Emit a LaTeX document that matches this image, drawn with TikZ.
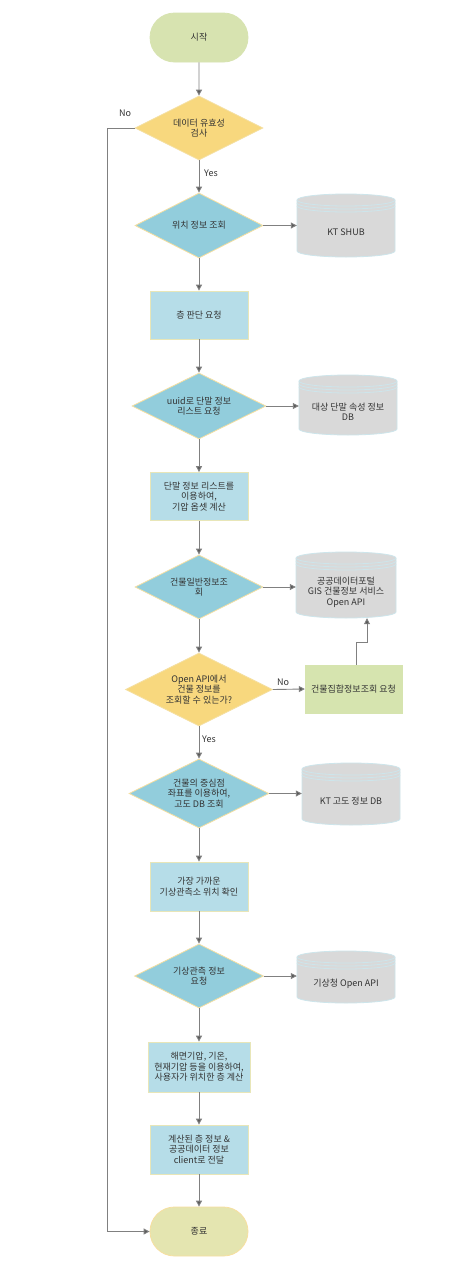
\documentclass[tikz,border=0pt]{standalone}
\usepackage{fontspec}
\setmainfont{Noto Sans CJK KR}
\usetikzlibrary{shapes.geometric,shapes.misc,arrows.meta}
\definecolor{startfill}{HTML}{D7E3B0}
\definecolor{endfill}{HTML}{E4E5B0}
\definecolor{enddraw}{HTML}{F7DFA0}
\definecolor{yelfill}{HTML}{F8D87E}
\definecolor{yeldraw}{HTML}{F5DFA0}
\definecolor{bluedia}{HTML}{92CDDC}
\definecolor{bluerect}{HTML}{B6DDE8}
\definecolor{rectdraw}{HTML}{E8E6B8}
\definecolor{greenrect}{HTML}{D6E4AF}
\definecolor{cylfill}{HTML}{D9D9D9}
\definecolor{cyldraw}{HTML}{CDE5EB}
\definecolor{linegray}{HTML}{808080}
\definecolor{tipgray}{HTML}{595959}
\definecolor{txt}{HTML}{333333}
\newcommand\dbcyl[6]{%
  \pgfmathsetmacro\cyL{#2}\pgfmathsetmacro\cyR{#3}%
  \pgfmathsetmacro\cyRx{(#3-#2)/2}%
  \pgfmathsetmacro\cyW{#3-#2}%
  \pgfmathsetmacro\cyH{#5-#4}%
  \pgfmathsetmacro\cyT{-(#4)-6}%
  \pgfmathsetmacro\cyB{-(#5)+6}%
  \pgfmathsetmacro\cyX{(#2+#3)/2}%
  \pgfmathsetmacro\cyY{-(#4+#5)/2}%
  \pgfmathsetmacro\cyTY{-((#4+12+#5)/2+1)}%
  \filldraw[fill=cylfill,draw=cyldraw,line width=0.8pt] (\cyL,\cyT) -- (\cyL,\cyB) arc[start angle=180,end angle=360,x radius=\cyRx,y radius=6] -- (\cyR,\cyT) arc[start angle=0,end angle=180,x radius=\cyRx,y radius=6] -- cycle;
  \draw[cyldraw,line width=0.8pt] (\cyL,\cyT) arc[start angle=180,end angle=360,x radius=\cyRx,y radius=6];
  \draw[cyldraw,line width=0.8pt] (\cyL,\cyT-3) arc[start angle=180,end angle=360,x radius=\cyRx,y radius=6];
  \draw[cyldraw,line width=0.8pt] (\cyL,\cyT-6) arc[start angle=180,end angle=360,x radius=\cyRx,y radius=6];
  \node[minimum width=\cyW, minimum height=\cyH, inner sep=0] (#1) at (\cyX,\cyY) {};
  \node[align=center] (#1t) at (\cyX,\cyTY) {#6};
}
\begin{document}
\begin{tikzpicture}[x=1pt,y=1pt, font=\fontsize{9}{10.5}\selectfont, text=txt,
  flow/.style={draw=linegray, line width=0.9pt, -{Triangle[length=6pt,width=6pt,fill=tipgray]}},
  term/.style={rounded rectangle, minimum width=98, minimum height=49, inner sep=0, line width=0.8pt},
  dia/.style={diamond, inner sep=0, line width=0.8pt},
  blrect/.style={rectangle, fill=bluerect, draw=rectdraw, line width=0.8pt, inner sep=0, align=center},
  dtext/.style={align=center, inner sep=0}]
\useasboundingbox (0,0) rectangle (474,-1280);
\fill[white] (0,0) rectangle (474,-1280);

% terminals
\node[term, fill=startfill, draw=startfill] (start) at (199,-37.5) {시작};
\node[term, fill=endfill, draw=enddraw] (stop) at (199,-1231.5) {종료};

% diamonds
\node[dia, fill=yelfill, draw=yeldraw, minimum width=128, minimum height=64] (d1) at (199,-128) {};
\node[dtext] (d1t) at (d1) {데이터 유효성\\검사};
\node[dia, fill=bluedia, draw=yeldraw, minimum width=128, minimum height=65] (d2) at (199,-225.5) {};
\node[dtext] (d2t) at (d2) {위치 정보 조회};
\node[dia, fill=bluedia, draw=yeldraw, minimum width=134, minimum height=66] (d3) at (199,-406) {};
\node[dtext] (d3t) at (d3) {uuid로 단말 정보\\리스트 요청};
\node[dia, fill=bluedia, draw=yeldraw, minimum width=128, minimum height=64] (d4) at (199,-587) {};
\node[dtext] (d4t) at (d4) {건물일반정보조\\회};
\node[dia, fill=yelfill, draw=yeldraw, minimum width=147, minimum height=73] (d5) at (199,-689.5) {};
\node[dtext] (d5t) at (d5) {Open API에서\\건물 정보를\\조회할 수 있는가?};
\node[dia, fill=bluedia, draw=yeldraw, minimum width=140, minimum height=69] (d6) at (199,-793.5) {};
\node[dtext] (d6t) at (d6) {건물의 중심점\\좌표를 이용하여,\\고도 DB 조회};
\node[dia, fill=bluedia, draw=yeldraw, minimum width=129, minimum height=64] (d7) at (199,-976) {};
\node[dtext] (d7t) at (d7) {기상관측 정보\\요청};

% rectangles
\node[blrect, minimum width=98, minimum height=48] (r1) at (199,-315) {층 판단 요청};
\node[blrect, minimum width=98, minimum height=48] (r2) at (199,-496.5) {단말 정보 리스트를\\이용하여,\\기압 옵셋 계산};
\node[blrect, minimum width=98, minimum height=49] (r3) at (199,-886.5) {가장 가까운\\기상관측소 위치 확인};
\node[blrect, minimum width=102, minimum height=50] (r4) at (199,-1067) {해면기압, 기온,\\현재기압 등을 이용하여,\\사용자가 위치한 층 계산};
\node[blrect, minimum width=98, minimum height=49] (r5) at (199,-1149.5) {계산된 층 정보 \&\\공공데이터 정보\\client로 전달};
\node[rectangle, fill=greenrect, draw=greenrect, minimum width=97, minimum height=48, inner sep=0] (r6) at (353.5,-689) {건물집합정보조회 요청};

% cylinders
\dbcyl{c1}{297}{395}{194}{257}{KT SHUB}
\dbcyl{c2}{299}{397}{375}{435}{대상 단말 속성 정보\\DB}
\dbcyl{c3}{296}{396}{552}{618}{공공데이터포털\\GIS 건물정보 서비스\\Open API}
\dbcyl{c4}{302}{400}{763}{825}{KT 고도 정보 DB}
\dbcyl{c5}{297}{395}{951}{1003}{기상청 Open API}

% main flow
\draw[flow] (start) -- (d1);
\draw[flow] (d1) -- (d2);
\draw[flow] (d2) -- (r1);
\draw[flow] (r1) -- (d3);
\draw[flow] (d3) -- (r2);
\draw[flow] (r2) -- (d4);
\draw[flow] (d4) -- (d5);
\draw[flow] (d5) -- (d6);
\draw[flow] (d6) -- (r3);
\draw[flow] (r3) -- (d7);
\draw[flow] (d7) -- (r4);
\draw[flow] (r4) -- (r5);
\draw[flow] (r5) -- (stop);

% side flows
\draw[flow] (d2.east) -- (d2.east -| c1.west);
\draw[flow] (d3.east) -- (d3.east -| c2.west);
\draw[flow] (d4.east) -- (d4.east -| c3.west);
\draw[flow] (d6.east) -- (d6.east -| c4.west);
\draw[flow] (d7.east) -- (d7.east -| c5.west);
\draw[flow] (d5.east) -- (r6.west);
\draw[flow] ([xshift=2.5]r6.north) -- ++(0,22) -| ([xshift=21]c3.south);

% loop back
\coordinate (loopx) at (107,-128);
\draw[flow] (d1.west) -- (loopx) |- (stop.west);

% labels
\node (no1) at (125,-113) {No};
\node (yes1) at (211,-173) {Yes};
\node (no2) at (283,-682) {No};
\node (yes2) at (209,-739) {Yes};
\end{tikzpicture}
\end{document}
